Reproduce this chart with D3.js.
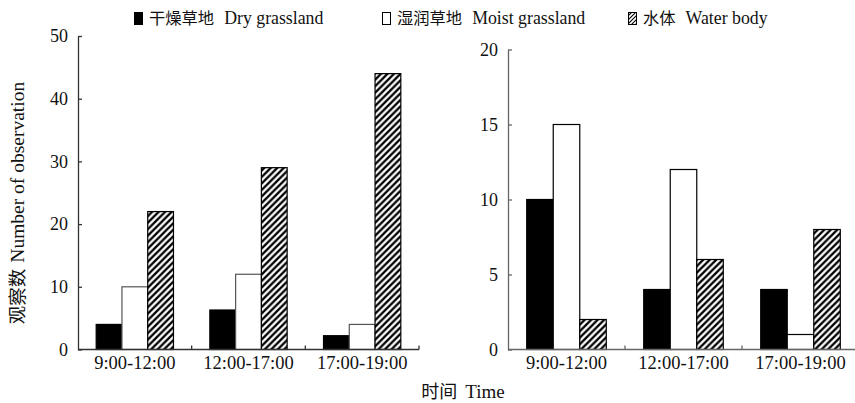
<!DOCTYPE html>
<html>
<head>
<meta charset="utf-8">
<script src="https://cdn.jsdelivr.net/npm/d3@7"></script>
<style>
  body { margin: 0; background: #fff; }
</style>
</head>
<body>
<svg id="chart" width="855" height="403"></svg>
<script>
// chart values
var categories = ["9:00-12:00", "12:00-17:00", "17:00-19:00"];
var seriesKeys = ["dry", "moist", "water"];
var legendCn = ["干燥草地", "湿润草地", "水体"];
var legendEn = ["Dry grassland", "Moist grassland", "Water body"];

var leftDry = [4, 6.3, 2.2];
var leftMoist = [10, 12, 4];
var leftWater = [22, 29, 44];
var leftTicks = [0, 10, 20, 30, 40, 50];

var rightDry = [10, 4, 4];
var rightMoist = [15, 12, 1];
var rightWater = [2, 6, 8];
var rightTicks = [0, 5, 10, 15, 20];

var SERIF = "'Liberation Serif', serif";
var CJK = "'Noto Sans CJK SC', sans-serif";

var svg = d3.select("#chart");

// hatch patterns
var defs = svg.append("defs");
defs.append("pattern")
    .attr("id", "hatch")
    .attr("patternUnits", "userSpaceOnUse")
    .attr("width", 6.5).attr("height", 6.5)
    .call(function (p) {
        p.append("rect").attr("width", 6.5).attr("height", 6.5).attr("fill", "#fff");
        p.append("path")
            .attr("d", "M0,6.5 L6.5,0 M-1.6,1.6 L1.6,-1.6 M4.9,8.1 L8.1,4.9")
            .attr("stroke", "#000").attr("stroke-width", 2.3);
    });
defs.append("pattern")
    .attr("id", "hatchSmall")
    .attr("patternUnits", "userSpaceOnUse")
    .attr("width", 4).attr("height", 4)
    .call(function (p) {
        p.append("rect").attr("width", 4).attr("height", 4).attr("fill", "#fff");
        p.append("path")
            .attr("d", "M0,4 L4,0 M-1,1 L1,-1 M3,5 L5,3")
            .attr("stroke", "#000").attr("stroke-width", 1.1);
    });

function drawPanel(opt) {
    var rows = categories.map(function (c, i) {
        return {cat: c, dry: opt.dry[i], moist: opt.moist[i], water: opt.water[i]};
    });

    var x = d3.scaleBand().domain(categories).range([opt.x0, opt.x1]).padding(0);
    var xi = d3.scaleBand().domain(seriesKeys)
        .range([x.bandwidth() * 0.16, x.bandwidth() * 0.84]).padding(0);
    var y = d3.scaleLinear().domain([0, opt.max]).range([opt.y0, opt.y1]);

    var g = svg.append("g");

    //bars
    var groups = g.selectAll("g.grp")
        .data(rows)
        .enter()
        .append("g")
        .attr("class", "grp")
        .attr("transform", function (d) { return "translate(" + x(d.cat) + ",0)"; });

    groups.selectAll("rect")
        .data(function (d) {
            return seriesKeys.map(function (k) { return {key: k, value: d[k]}; });
        })
        .enter()
        .append("rect")
        .attr("x", function (d) { return xi(d.key); })
        .attr("width", xi.bandwidth())
        .attr("y", function (d) { return y(d.value); })
        .attr("height", function (d) { return y(0) - y(d.value); })
        .attr("fill", function (d) {
            return d.key === "dry" ? "#000" : d.key === "moist" ? "#fff" : "url(#hatch)";
        })
        .attr("stroke", function (d) { return d.key === "moist" ? opt.moistStroke : "#000"; })
        .attr("stroke-width", 1.2);

    //y axis
    var yAxis = d3.axisLeft(y).tickValues(opt.ticks).tickSize(-4).tickPadding(10).tickSizeOuter(0);
    var ya = g.append("g")
        .attr("transform", "translate(" + opt.x0 + ",0)")
        .call(yAxis);
    ya.select(".domain").attr("stroke", opt.axisColor).attr("stroke-width", 1.3);
    ya.selectAll(".tick line").attr("stroke", opt.axisColor).attr("stroke-width", 1.3);
    ya.selectAll("text")
        .style("font-family", SERIF)
        .style("font-size", "18px")
        .attr("fill", "#111");

    //x axis, ticks at band edges
    var edges = categories.map(function (c) { return x(c) + x.bandwidth(); });
    var xa = g.append("g");
    xa.append("line")
        .attr("x1", opt.x0).attr("x2", opt.x1)
        .attr("y1", y(0)).attr("y2", y(0))
        .attr("stroke", opt.axisColor).attr("stroke-width", 1.3);
    xa.selectAll("line.tk")
        .data(edges)
        .enter()
        .append("line")
        .attr("class", "tk")
        .attr("x1", function (d) { return d; }).attr("x2", function (d) { return d; })
        .attr("y1", y(0)).attr("y2", y(0) - 4)
        .attr("stroke", opt.axisColor).attr("stroke-width", 1.3);
    xa.selectAll("text")
        .data(categories)
        .enter()
        .append("text")
        .attr("x", function (d) { return x(d) + x.bandwidth() / 2; })
        .attr("y", 369)
        .attr("text-anchor", "middle")
        .attr("fill", "#111")
        .style("font-family", SERIF)
        .style("font-size", "18.5px")
        .text(function (d) { return d; });
}

drawPanel({
    dry: leftDry, moist: leftMoist, water: leftWater, ticks: leftTicks, max: 50,
    x0: 78, x1: 419, y0: 349.5, y1: 36, axisColor: "#333", moistStroke: "#555"
});
drawPanel({
    dry: rightDry, moist: rightMoist, water: rightWater, ticks: rightTicks, max: 20,
    x0: 508, x1: 859, y0: 349.5, y1: 49.5, axisColor: "#666", moistStroke: "#000"
});

// legend
var legendX = [134, 382, 628];
var lg = svg.selectAll("g.legend")
    .data(seriesKeys)
    .enter()
    .append("g")
    .attr("class", "legend")
    .attr("transform", function (d, i) { return "translate(" + legendX[i] + ",0)"; });

lg.append("rect")
    .attr("x", 0.5).attr("y", 12.5)
    .attr("width", 8).attr("height", 12)
    .attr("fill", function (d) {
        return d === "dry" ? "#000" : d === "moist" ? "#fff" : "url(#hatchSmall)";
    })
    .attr("stroke", "#000").attr("stroke-width", 1);

var lt = lg.append("text")
    .attr("x", 15).attr("y", 24)
    .attr("fill", "#111")
    .style("font-family", SERIF)
    .style("font-size", "17.8px");
lt.append("tspan")
    .style("font-family", CJK)
    .style("font-size", "16.3px")
    .text(function (d, i) { return legendCn[i]; });
lt.append("tspan")
    .attr("dx", 10)
    .text(function (d, i) { return legendEn[i]; });

// axis titles
var yt = svg.append("text")
    .attr("transform", "translate(24,203) rotate(-90)")
    .attr("text-anchor", "middle")
    .attr("fill", "#111")
    .style("font-family", SERIF)
    .style("font-size", "19.5px");
yt.append("tspan")
    .style("font-family", CJK)
    .style("font-size", "18.5px")
    .text("观察数");
yt.append("tspan").attr("dx", 6).text("Number of observation");

var xt = svg.append("text")
    .attr("x", 463).attr("y", 398)
    .attr("text-anchor", "middle")
    .attr("fill", "#111")
    .style("font-family", SERIF)
    .style("font-size", "19px");
xt.append("tspan")
    .style("font-family", CJK)
    .style("font-size", "18px")
    .text("时间");
xt.append("tspan").attr("dx", 8).text("Time");
</script>
</body>
</html>
